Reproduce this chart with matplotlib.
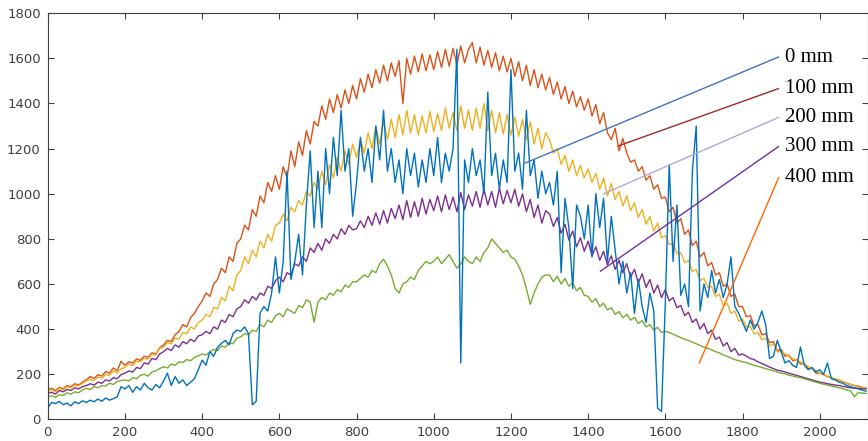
import numpy as np
import matplotlib.pyplot as plt

# sample positions (every 10 points)
x = np.arange(0, 2130, 10)

# 0 mm (blue)
y_0mm = [50, 75, 70, 80, 65, 72, 60, 78, 70, 82,
         75, 85, 78, 90, 80, 95, 85, 92, 100, 145,
         135, 150, 120, 145, 130, 160, 140, 130, 155, 140,
         170, 205, 150, 190, 160, 175, 150, 165, 180, 220,
         263, 240, 300, 280, 320, 337, 350, 330, 380, 396,
         390, 410, 380, 65, 80, 470, 500, 480, 560, 720,
         560, 700, 1100, 620, 700, 820, 640, 950, 1190, 850,
         1100, 850, 1200, 1000, 1250, 1080, 1370, 1100, 1200, 900,
         1050, 1250, 1100, 1200, 1050, 1300, 1150, 1370, 1100, 1200,
         1050, 1150, 1000, 1200, 1080, 1180, 1030, 1150, 1050, 1200,
         1080, 1250, 1050, 1180, 1100, 1200, 1640, 250, 1150, 1050,
         1200, 1080, 1150, 1000, 1450, 1080, 1180, 1020, 1150, 1050,
         1550, 1100, 1180, 1020, 1370, 1080, 1150, 980, 1100, 1000,
         1050, 950, 1100, 650, 980, 850, 580, 950, 900, 800,
         950, 720, 1000, 850, 980, 700, 900, 750, 600, 700,
         560, 650, 470, 620, 500, 430, 560, 480, 50, 35,
         520, 1130, 700, 950, 550, 600, 500, 1100, 1300, 480,
         600, 540, 660, 560, 620, 540, 600, 720, 500, 470,
         430, 390, 440, 400, 430, 480, 420, 270, 280, 350,
         300, 250, 260, 240, 230, 320, 240, 220, 230, 210,
         220, 200, 250, 180, 175, 165, 160, 150, 145, 140,
         135, 130, 125]

# 100 mm (orange)
y_100mm = [130, 138, 128, 142, 135, 150, 145, 158, 152, 165,
           175, 190, 182, 198, 192, 212, 205, 228, 215, 258,
           240, 255, 250, 268, 262, 280, 275, 295, 290, 318,
           330, 350, 345, 375, 390, 420, 410, 450, 470, 500,
           525, 560, 545, 600, 620, 670, 650, 720, 700, 780,
           800, 860, 840, 930, 900, 990, 960, 1050, 1010, 1080,
           1020, 1120, 1070, 1190, 1120, 1230, 1170, 1280, 1220, 1320,
           1300, 1390, 1330, 1420, 1360, 1440, 1380, 1460, 1400, 1480,
           1420, 1510, 1450, 1530, 1470, 1550, 1490, 1570, 1500, 1580,
           1520, 1590, 1400, 1600, 1530, 1610, 1540, 1620, 1545, 1615,
           1550, 1630, 1560, 1640, 1565, 1645, 1570, 1655, 1580, 1640,
           1670, 1580, 1650, 1570, 1635, 1560, 1625, 1545, 1610, 1540,
           1600, 1520, 1585, 1500, 1570, 1480, 1550, 1470, 1530, 1460,
           1515, 1440, 1495, 1420, 1475, 1400, 1455, 1385, 1430, 1370,
           1420, 1345, 1395, 1310, 1360, 1270, 1240, 1290, 1190, 1245,
           1180, 1140, 1150, 1100, 1120, 1060, 1080, 1020, 1040, 980,
           985, 920, 940, 870, 890, 820, 840, 770, 790, 720,
           740, 680, 695, 640, 650, 590, 600, 545, 555, 500,
           500, 455, 460, 415, 420, 375, 380, 340, 345, 305,
           310, 280, 285, 260, 265, 245, 248, 225, 228, 205,
           205, 198, 190, 185, 178, 172, 168, 160, 155, 150,
           148, 142, 138]

# 200 mm (yellow)
y_200mm = [125, 132, 122, 138, 130, 145, 140, 152, 148, 160,
           170, 178, 172, 188, 182, 200, 195, 215, 205, 225,
           230, 245, 238, 258, 255, 270, 268, 290, 285, 315,
           320, 340, 335, 360, 355, 385, 380, 410, 400, 430,
           440, 465, 455, 495, 490, 540, 525, 590, 570, 640,
           660, 720, 690, 750, 720, 790, 760, 820, 790, 860,
           870, 910, 880, 940, 920, 970, 950, 1010, 990, 1050,
           1020, 1100, 1040, 1130, 1070, 1160, 1100, 1190, 1130, 1220,
           1160, 1240, 1180, 1270, 1200, 1300, 1220, 1320, 1240, 1330,
           1250, 1350, 1260, 1370, 1270, 1350, 1260, 1345, 1270, 1365,
           1275, 1355, 1280, 1380, 1290, 1360, 1280, 1390, 1290, 1370,
           1280, 1380, 1290, 1400, 1280, 1370, 1270, 1360, 1265, 1350,
           1260, 1340, 1255, 1330, 1240, 1320, 1220, 1290, 1200, 1270,
           1240, 1180, 1200, 1130, 1170, 1100, 1150, 1080, 1125, 1070,
           1110, 1050, 1090, 1020, 1070, 990, 1045, 975, 1010, 945,
           990, 925, 960, 895, 930, 865, 900, 835, 870, 805,
           815, 775, 780, 735, 740, 695, 705, 655, 665, 615,
           625, 585, 590, 545, 555, 505, 515, 470, 480, 435,
           445, 410, 412, 378, 385, 352, 360, 325, 335, 300,
           300, 290, 280, 270, 262, 255, 245, 235, 225, 215,
           205, 200, 192, 185, 180, 175, 168, 160, 155, 150,
           145, 142, 140]

# 300 mm (purple)
y_300mm = [115, 120, 112, 128, 122, 133, 128, 140, 135, 145,
           150, 158, 152, 165, 160, 175, 170, 185, 180, 198,
           205, 215, 210, 230, 225, 250, 245, 270, 265, 290,
           300, 315, 305, 330, 320, 345, 335, 355, 345, 370,
           375, 390, 380, 410, 400, 440, 430, 465, 455, 490,
           500, 530, 515, 545, 530, 560, 550, 590, 580, 615,
           630, 610, 650, 640, 690, 680, 720, 700, 760, 740,
           780, 750, 800, 780, 820, 800, 845, 820, 860, 840,
           845, 880, 850, 900, 860, 915, 865, 925, 870, 935,
           890, 950, 885, 970, 895, 965, 900, 980, 910, 975,
           925, 990, 920, 995, 930, 985, 920, 1005, 930, 995,
           945, 1010, 940, 1020, 950, 1010, 940, 1025, 955, 1015,
           960, 1020, 945, 1000, 920, 975, 895, 950, 870, 925,
           910, 855, 895, 825, 865, 795, 835, 765, 805, 745,
           790, 725, 765, 705, 745, 685, 725, 665, 705, 650,
           690, 630, 665, 605, 645, 585, 620, 560, 595, 540,
           575, 525, 540, 495, 505, 460, 475, 430, 445, 400,
           425, 380, 395, 355, 365, 325, 340, 300, 315, 285,
           290, 280, 270, 265, 255, 248, 240, 232, 225, 218,
           215, 210, 205, 200, 195, 190, 185, 180, 175, 170,
           165, 162, 158, 155, 152, 150, 146, 143, 140, 138,
           138, 136, 135]

# 400 mm (green)
y_400mm = [100, 105, 98, 110, 106, 118, 112, 122, 118, 130,
           138, 132, 145, 140, 150, 148, 160, 155, 168, 172,
           175, 170, 185, 180, 195, 200, 192, 210, 215, 225,
           233, 228, 245, 240, 255, 252, 265, 260, 275, 282,
           290, 285, 300, 310, 305, 325, 320, 340, 335, 360,
           366, 380, 375, 395, 390, 420, 410, 440, 430, 460,
           470, 455, 490, 480, 470, 505, 495, 530, 520, 430,
           520, 540, 530, 560, 550, 575, 565, 595, 585, 610,
           610, 625, 640, 630, 660, 650, 690, 710, 680, 640,
           580, 560, 600, 610, 630, 620, 660, 680, 700, 690,
           700, 720, 690, 710, 730, 700, 670, 690, 720, 700,
           690, 720, 700, 740, 760, 800, 780, 760, 740, 750,
           720, 710, 680, 640, 580, 510, 560, 600, 630, 640,
           640, 610, 635, 600, 625, 590, 605, 570, 585, 550,
           545, 520, 535, 500, 515, 485, 495, 465, 478, 450,
           465, 440, 452, 425, 438, 410, 420, 395, 408, 385,
           390, 385, 378, 370, 362, 355, 350, 342, 335, 328,
           320, 315, 308, 300, 295, 285, 280, 272, 265, 260,
           255, 252, 245, 240, 235, 230, 225, 220, 215, 210,
           205, 202, 196, 192, 188, 185, 180, 175, 170, 165,
           160, 156, 152, 148, 144, 140, 136, 130, 126, 100,
           120, 116, 115]

labels = ['0 mm', '100 mm', '200 mm', '300 mm', '400 mm']
line_colors = ['#4472C4', '#9E2A2B', '#B4A7D6', '#7030A0', '#FF6600']
# where each callout line touches its curve
tip_x = [1237, 1478, 1439, 1432, 1688]
tip_y = [1136, 1212, 999, 657, 250]
label_y = [1606, 1466, 1338, 1209, 1070]

fig = plt.figure(figsize=(8.68, 4.41), dpi=100)
ax = fig.add_axes([0.055, 0.049, 0.945, 0.921])

ax.plot(x, y_100mm, color='#D95319', lw=1.0)
ax.plot(x, y_200mm, color='#EDB120', lw=1.0)
ax.plot(x, y_300mm, color='#7E2F8E', lw=1.0)
ax.plot(x, y_400mm, color='#77AC30', lw=1.0)
ax.plot(x, y_0mm, color='#0072BD', lw=1.0)

for lab, c, tx, ty, ly in zip(labels, line_colors, tip_x, tip_y, label_y):
    ax.plot([tx, 1893], [ty, ly], color=c, lw=1.0)
    ax.text(1910, ly, lab, fontsize=15, family='Liberation Serif',
            ha='left', va='center', color='black')

ax.set_xlim(0, 2125)
ax.set_ylim(0, 1800)
ax.set_xticks(range(0, 2001, 200))
ax.set_yticks(range(0, 1801, 200))
ax.tick_params(direction='in', length=4, width=0.8, top=True, right=True,
               labelsize=9.5, colors='#404040', pad=5)
for s in ax.spines.values():
    s.set_color('#404040')
    s.set_linewidth(0.8)

fig.savefig('out.png', dpi=100)
